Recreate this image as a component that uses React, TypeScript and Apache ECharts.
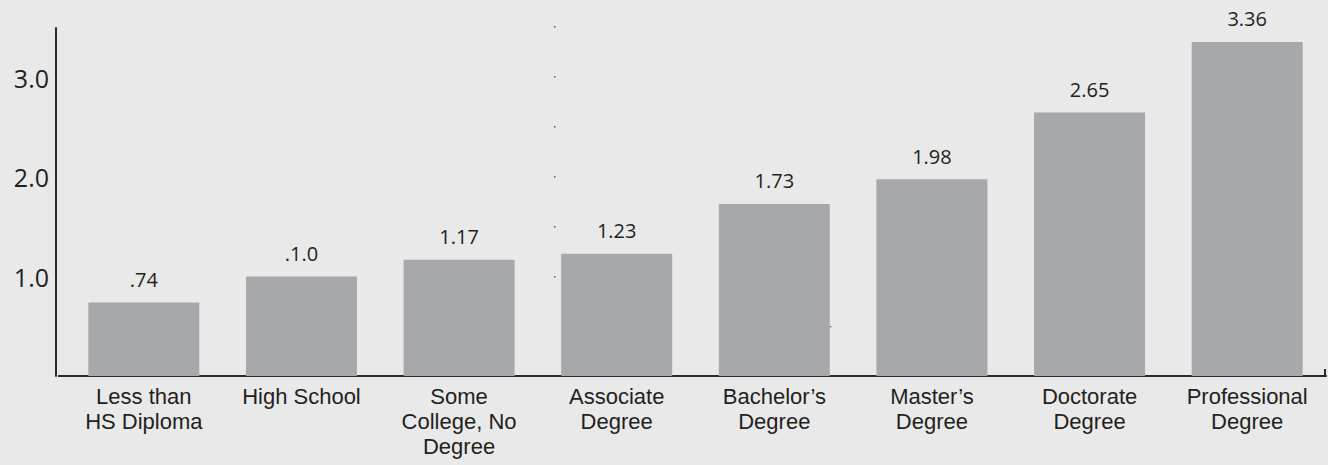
import React, { useEffect, useRef } from "react";
import * as echarts from "echarts";

const categories = [
  "Less than\nHS Diploma",
  "High School",
  "Some\nCollege, No\nDegree",
  "Associate\nDegree",
  "Bachelor’s\nDegree",
  "Master’s\nDegree",
  "Doctorate\nDegree",
  "Professional\nDegree",
];
const values = [0.74, 1.0, 1.17, 1.23, 1.73, 1.98, 2.65, 3.36];
const valueLabels = [".74", ".1.0", "1.17", "1.23", "1.73", "1.98", "2.65", "3.36"];
const yTickLabels = ["", "1.0", "2.0", "3.0"];

export default function App() {
  const ref = useRef<HTMLDivElement>(null);
  useEffect(() => {
    document.body.style.margin = "0";
    const chart = echarts.init(ref.current!, null, { renderer: "svg" });
    const textColor = "#231f20";
    chart.setOption({
      animation: false,
      backgroundColor: "#e9e9e9",
      grid: { left: 65, right: 2, top: 28, bottom: 89, containLabel: false },
      xAxis: {
        type: "category",
        data: categories,
        axisLine: { show: true, lineStyle: { color: "#2b2b2b", width: 2 } },
        axisTick: { show: false },
        axisLabel: {
          interval: 0,
          color: textColor,
          fontFamily: "Liberation Sans, Arial, sans-serif",
          fontSize: 22,
          lineHeight: 25,
          margin: 8,
        },
      },
      yAxis: {
        type: "value",
        min: 0,
        max: 3.5,
        interval: 1,
        offset: 9,
        splitLine: { show: false },
        axisTick: { show: false },
        axisLine: { show: true, lineStyle: { color: "#2b2b2b", width: 2 } },
        axisLabel: {
          color: textColor,
          fontFamily: "Open Sans, sans-serif",
          fontSize: 25,
          margin: 7,
          padding: [4, 0, 0, 0],
          showMaxLabel: false,
          formatter: (v: number) => yTickLabels[Math.round(v)] ?? "",
        },
      },
      series: [
        {
          type: "bar",
          data: values,
          barWidth: 111,
          itemStyle: { color: "#a7a8ab" },
          label: {
            show: true,
            position: "top",
            distance: 13,
            color: textColor,
            fontFamily: "Open Sans, sans-serif",
            fontSize: 20,
            formatter: (p: any) => valueLabels[p.dataIndex],
          },
        },
      ],
      graphic: [
        {
          type: "line",
          shape: { x1: 58, y1: 376, x2: 66, y2: 376 },
          style: { stroke: "#2b2b2b", lineWidth: 2 },
        },
        {
          type: "line",
          shape: { x1: 1325, y1: 369, x2: 1325, y2: 377 },
          style: { stroke: "#2b2b2b", lineWidth: 2 },
        },
        {
          type: "line",
          shape: { x1: 554.7, y1: 26, x2: 554.7, y2: 278 },
          style: { stroke: "#555", lineWidth: 1.5, lineDash: [1.5, 48.5] },
        },
        {
          type: "line",
          shape: { x1: 829.5, y1: 326.7, x2: 831.5, y2: 326.7 },
          style: { stroke: "#444", lineWidth: 1 },
        },
      ],
    });
    return () => chart.dispose();
  }, []);
  return <div ref={ref} style={{ width: 1328, height: 465 }} />;
}
